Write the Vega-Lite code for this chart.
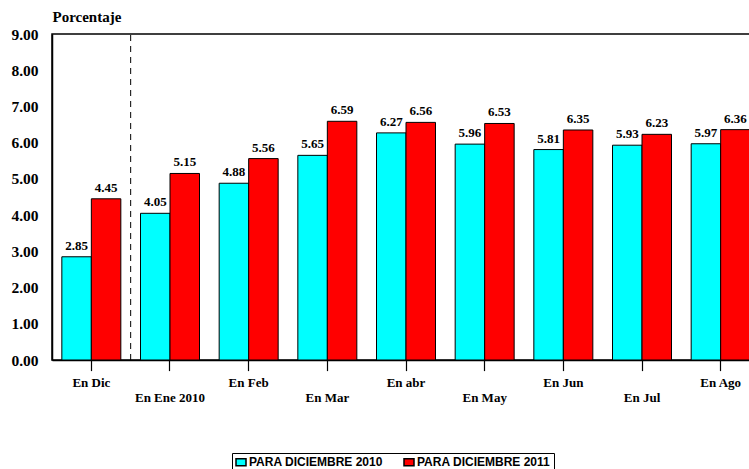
{
  "$schema": "https://vega.github.io/schema/vega-lite/v6.json",
  "width": 708,
  "height": 326,
  "autosize": {"type": "none"},
  "padding": {"left": 52, "top": 34, "right": 20, "bottom": 115},
  "background": "white",
  "config": {
    "view": {"stroke": "black", "strokeWidth": 1.5},
    "font": "Liberation Serif"
  },
  "datasets": {
    "barras": [
      {"mes": "En Dic", "serie": "PARA DICIEMBRE 2010", "valor": 2.85},
      {"mes": "En Dic", "serie": "PARA DICIEMBRE 2011", "valor": 4.45},
      {"mes": "En Ene 2010", "serie": "PARA DICIEMBRE 2010", "valor": 4.05},
      {"mes": "En Ene 2010", "serie": "PARA DICIEMBRE 2011", "valor": 5.15},
      {"mes": "En Feb", "serie": "PARA DICIEMBRE 2010", "valor": 4.88},
      {"mes": "En Feb", "serie": "PARA DICIEMBRE 2011", "valor": 5.56},
      {"mes": "En Mar", "serie": "PARA DICIEMBRE 2010", "valor": 5.65},
      {"mes": "En Mar", "serie": "PARA DICIEMBRE 2011", "valor": 6.59},
      {"mes": "En abr", "serie": "PARA DICIEMBRE 2010", "valor": 6.27},
      {"mes": "En abr", "serie": "PARA DICIEMBRE 2011", "valor": 6.56},
      {"mes": "En May", "serie": "PARA DICIEMBRE 2010", "valor": 5.96},
      {"mes": "En May", "serie": "PARA DICIEMBRE 2011", "valor": 6.53},
      {"mes": "En Jun", "serie": "PARA DICIEMBRE 2010", "valor": 5.81},
      {"mes": "En Jun", "serie": "PARA DICIEMBRE 2011", "valor": 6.35},
      {"mes": "En Jul", "serie": "PARA DICIEMBRE 2010", "valor": 5.93},
      {"mes": "En Jul", "serie": "PARA DICIEMBRE 2011", "valor": 6.23},
      {"mes": "En Ago", "serie": "PARA DICIEMBRE 2010", "valor": 5.97},
      {"mes": "En Ago", "serie": "PARA DICIEMBRE 2011", "valor": 6.36}
    ],
    "separador": [{"mes": "En Dic", "valor": 0, "hasta": 9}]
  },
  "data": {"name": "barras"},
  "encoding": {
    "x": {
      "field": "mes", "type": "nominal", "sort": null,
      "scale": {"paddingInner": 0.25, "paddingOuter": 0.125},
      "axis": {
        "title": null, "labelAngle": 0, "ticks": true, "tickSize": 10, "tickColor": "#000000",
        "tickOpacity": 1, "tickWidth": 1.2, "tickCap": "square", "tickDash": [],
        "domainColor": "black", "domainWidth": 1.5,
        "labelFont": "Liberation Serif", "labelFontWeight": "bold", "labelFontSize": 13,
        "labelColor": "black", "labelPadding": 6, "labelBaseline": "top", "labelLineHeight": 15,
        "labelExpr": "indexof(['En Ene 2010','En Mar','En May','En Jul'], datum.value) >= 0 ? ['', datum.value] : datum.value"
      }
    },
    "y": {
      "field": "valor", "type": "quantitative",
      "scale": {"domain": [0, 9], "nice": false},
      "axis": {
        "title": "Porcentaje", "titleAngle": 0, "titleX": 0, "titleY": -10,
        "titleAlign": "left", "titleBaseline": "bottom",
        "titleFont": "Liberation Serif", "titleFontWeight": "bold", "titleFontSize": 15, "titleColor": "black",
        "format": ".2f", "values": [0,1,2,3,4,5,6,7,8,9], "grid": false, "ticks": false,
        "labelOverlap": false, "labelFlush": false,
        "labelFont": "Liberation Serif", "labelFontWeight": "bold", "labelFontSize": 15.5,
        "labelColor": "black", "labelPadding": 14, "domainColor": "black", "domainWidth": 1.5
      }
    }
  },
  "layer": [
    {
      "mark": {"type": "bar", "stroke": "black", "strokeWidth": 1},
      "encoding": {
        "xOffset": {"field": "serie", "type": "nominal"},
        "color": {
          "field": "serie", "type": "nominal",
          "scale": {"range": ["#00FFFF", "#FF0000"]},
          "legend": {
            "title": null, "orient": "none", "legendX": 180, "legendY": 419,
            "direction": "horizontal", "strokeColor": "black", "padding": 3,
            "symbolType": "M-1,-0.7H1V0.7H-1Z", "symbolSize": 100, "symbolStrokeColor": "black",
            "symbolStrokeWidth": 1.5, "symbolOpacity": 1,
            "labelFont": "Liberation Sans", "labelFontWeight": "bold", "labelFontSize": 12,
            "labelColor": "black", "columnPadding": 18, "labelOffset": 2
          }
        }
      }
    },
    {
      "mark": {"type": "text", "dy": -11, "font": "Liberation Serif", "fontWeight": "bold", "fontSize": 13, "color": "black"},
      "encoding": {
        "xOffset": {"field": "serie", "type": "nominal"},
        "text": {"field": "valor", "type": "quantitative", "format": ".2f"}
      }
    },
    {
      "data": {"name": "separador"},
      "mark": {"type": "rule", "strokeDash": [6, 5], "color": "black", "strokeWidth": 1},
      "encoding": {
        "x": {"field": "mes", "type": "nominal", "sort": null, "bandPosition": 1.1667},
        "y2": {"field": "hasta"}
      }
    }
  ]
}
